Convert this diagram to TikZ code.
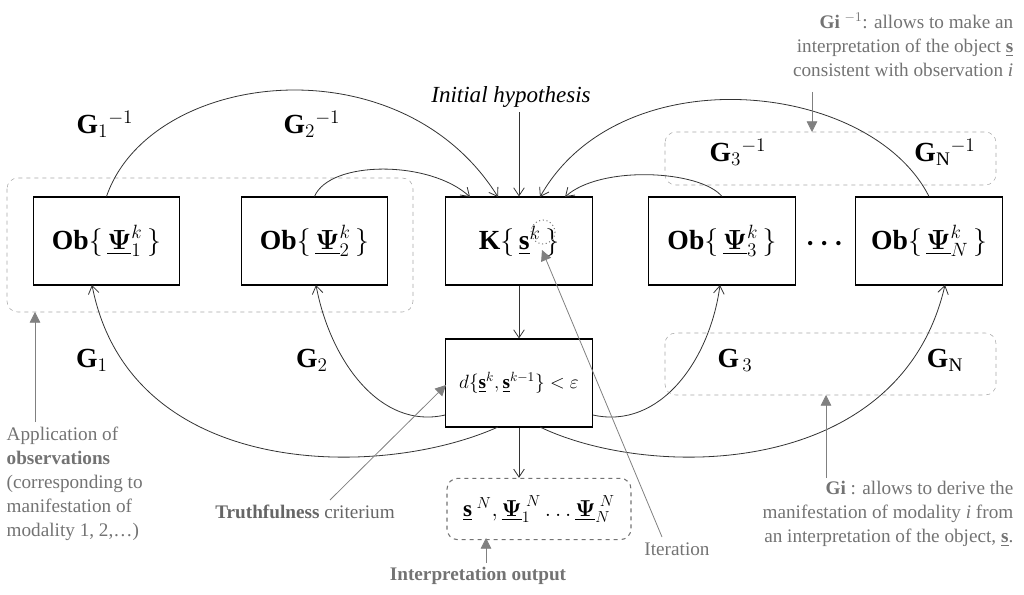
\documentclass[tikz,border=0pt]{standalone}
\usepackage{fontspec}
\setmainfont{Liberation Serif}
\usepackage{amsmath}
\usetikzlibrary{arrows.meta}
\begin{document}
\begin{tikzpicture}[x=0.75pt,y=-0.75pt,
 box/.style={draw,thick,minimum width=110pt,minimum height=66pt,inner sep=0pt,font=\huge},
 conn/.style={draw,-{Straight Barb[length=6pt,width=8pt]},semithick,black!80},
 ann/.style={gray,-{Triangle[length=8pt,width=8pt]},semithick},
 grp/.style={draw=gray!70,dashed,rounded corners=8pt},
 lab/.style={font=\huge},
 note/.style={text=gray!90!black,font=\Large,align=left}]
\useasboundingbox (0,0) rectangle (1024,595);
\newcommand{\ubf}[1]{\underline{\boldsymbol{#1}}}
% groups
\draw[grp] (7,178) rectangle (413,312);
\draw[grp] (665,132) rectangle (996,185);
\draw[grp] (665,333) rectangle (996,395);
% boxes
\node[box] (o1) at (106.5,241) {\textbf{Ob}$\{\,\ubf{\Psi}_1^{k}\,\}$};
\node[box] (o2) at (314.5,241) {\textbf{Ob}$\{\,\ubf{\Psi}_2^{k}\,\}$};
\node[box] (k) at (519,241) {\textbf{K}$\{\,\underline{\mathbf{s}}^{k}\,\}$};
\node[box] (o3) at (722,241) {\textbf{Ob}$\{\,\ubf{\Psi}_3^{k}\,\}$};
\node[box] (on) at (929,241) {\textbf{Ob}$\{\,\ubf{\Psi}_N^{k}\,\}$};
\node[box,font=\Large] (d) at (519,383) {$d\{\underline{\mathbf{s}}^{k},\underline{\mathbf{s}}^{k-1}\}<\varepsilon$};
\node[draw=gray!90!black,dashed,thick,rounded corners=8pt,minimum width=138pt,minimum height=46pt,font=\LARGE] (out) at (539,509) {$\underline{\mathbf{s}}^{\;N},\ubf{\Psi}_1^{\;N}\ldots\ubf{\Psi}_N^{\;N}$};
\node[font=\huge] (dots) at (827,244) {$\boldsymbol{\cdots}$};
\draw[gray,dotted,thick] (543,232) circle (12);
% labels
\node[lab] at (105,124) {$\mathbf{G}_1{}^{-1}$};
\node[lab] at (312,124) {$\mathbf{G}_2{}^{-1}$};
\node[lab] at (738,152) {$\mathbf{G}_3{}^{-1}$};
\node[lab] at (945,152) {$\mathbf{G}_\mathrm{N}{}^{-1}$};
\node[lab] at (92,360) {$\mathbf{G}_1$};
\node[lab] at (312,360) {$\mathbf{G}_2$};
\node[lab] at (735,360) {$\mathbf{G}_{\,3}$};
\node[lab] at (945,360) {$\mathbf{G}_\mathrm{N}$};
\node[font=\LARGE\itshape] (ih) at (511,97) {Initial hypothesis};
% inverse arrows
\coordinate (k1) at (470,197); \coordinate (k2) at (498,197);
\coordinate (k3) at (540,197); \coordinate (k4) at (565,197);
\draw[conn] (ih.south -| k) -- (k.north);
\draw[conn] (o1.north) .. controls (150,70) and (400,40) .. (k2);
\draw[conn] (o2.north) .. controls (330,160) and (430,160) .. (k1);
\draw[conn] (on.north) .. controls (870,80) and (620,55) .. (k3);
\draw[conn] (o3.north) .. controls (700,170) and (600,165) .. (k4);
% forward arrows
\draw[conn] (k.south) -- (d.north);
\draw[conn] (d.south) -- (out.north -| d);
\coordinate (dl) at (498,427); \coordinate (dr) at (540,427);
\draw[conn] (dl) .. controls (380,480) and (130,480) .. (92,285);
\draw[conn] (d.west |- 0,415) .. controls (380,430) and (330,360) .. (316,285);
\draw[conn] (d.east |- 0,415) .. controls (660,430) and (710,360) .. (720,285);
\draw[conn] (dr) .. controls (650,480) and (900,480) .. (945,285);
% annotations
\node[note,font=\Large\bfseries,text=gray!80!black] (tc) at (305,512) {Truthfulness \mdseries criterium};
\draw[ann] (330,500) -- (446,385);
\node[note] (it) at (677,549) {Iteration};
\draw[ann] (662,537) -- (542,250);
\node[note,font=\Large\bfseries] (io) at (478,576) {Interpretation output};
\draw[ann] (486,563) -- (486,538);
\node[note,anchor=north west] (ap) at (2,422) {Application of\\\textbf{observations}\\(corresponding to\\manifestation of\\modality 1, 2,\ldots)};
\draw[ann] (35,422) -- (35,312);
\node[note,anchor=north east,align=right] (gi) at (1018,8) {\textbf{Gi} ${}^{-1}$: allows to make an\\interpretation of the object \underline{\textbf{s}}\\consistent with observation \textit{i}};
\draw[ann] (812,92) -- (812,132);
\node[note,anchor=north east,align=right] (g) at (1018,476) {\textbf{Gi} : allows to derive the\\manifestation of modality \textit{i} from\\an interpretation of the object, \underline{\textbf{s}}.};
\draw[ann] (826,478) -- (826,395);
\end{tikzpicture}
\end{document}
